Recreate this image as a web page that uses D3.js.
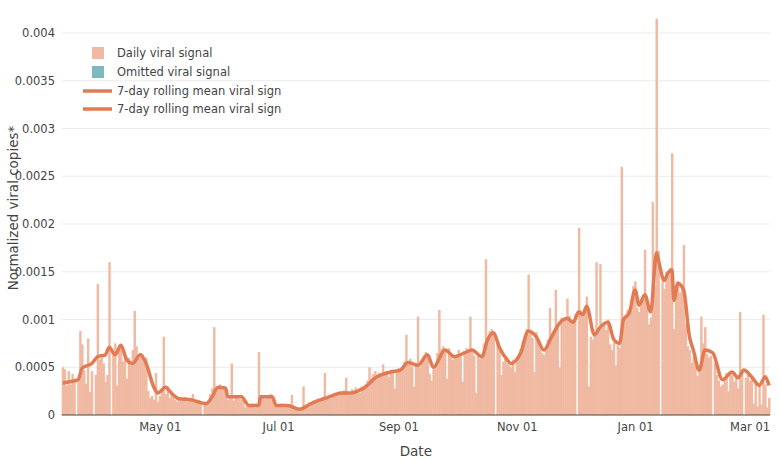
<!DOCTYPE html>
<html>
<head>
<meta charset="utf-8">
<script src="https://cdn.jsdelivr.net/npm/d3@7"></script>
<style>
  body { margin: 0; background: #fff; }
  svg { display: block; }
  text { font-family: "DejaVu Sans", Verdana, sans-serif; }
</style>
</head>
<body>
<svg id="chart" width="780" height="460"></svg>
<script>
// ---------- DATA ----------
const startDate = "2022-03-12"; // first daily sample
// Daily viral signal, in units of 1e-4 normalized copies (0 = no sample)
const dailyMar22 = [5.0,4.8,3.1,4.6,3.2,4.3,3.4,0,3.5,8.8,7.4,4.7,3.3,8.0,2.4,4.6,0,4.2,13.7,5.8];
const dailyApr22 = [6.0,5.4,3.5,4.2,16.0,0,6.3,7.5,3.1,6.8,7.2,5.6,6.4,3.8,6.0,5.2,6.8,10.9,7.2,5.9,6.5,6.4,5.5,6.0,2.5,1.8,2.0,1.6,4.4,1.4];
const dailyMay22 = [2.0,2.6,8.2,2.2,3.0,1.8,2.5,2.0,1.6,1.4,1.8,1.5,1.7,1.9,1.4,1.6,1.8,2.2,1.5,1.3,1.6,1.2,0,1.3,1.1,1.4,2.2,2.8,9.2,2.6,3.0];
const dailyJun22 = [3.2,2.7,3.0,2.4,1.6,2.0,5.4,1.5,1.8,2.1,1.7,1.6,1.9,0.8,1.0,1.1,0.9,1.2,0.8,1.0,6.6,1.8,2.0,1.7,2.1,1.9,2.2,1.6,1.0,1.1];
const dailyJul22 = [0.9,1.0,1.2,0.8,1.1,1.0,0.9,2.1,0.8,0.6,0.5,0.4,0.7,3.0,0.9,1.1,1.3,1.2,1.5,1.4,1.7,1.3,1.6,1.9,4.4,1.8,2.0,1.7,2.2,2.0,2.3];
const dailyAug22 = [2.1,2.5,2.2,2.6,3.9,2.4,2.1,2.7,2.4,2.9,2.6,2.3,3.0,2.7,3.2,3.6,5.0,3.9,4.3,4.6,3.8,4.4,4.1,5.3,4.3,4.6,4.0,4.7,4.4,2.8,4.6];
const dailySep22 = [4.9,4.5,5.0,5.6,8.4,5.3,5.9,5.1,3.0,5.4,10.3,5.0,5.7,6.2,6.6,6.0,4.3,3.6,4.8,5.1,6.5,11.0,6.9,7.2,6.6,3.8,7.0,6.3,5.8,6.0];
const dailyOct22 = [6.4,6.8,6.1,3.5,6.7,7.0,6.5,10.3,6.9,6.2,2.3,6.4,5.9,6.0,7.5,16.3,8.2,8.8,9.0,8.5,0,7.8,6.9,4.2,5.6,6.0,5.4,5.2,5.0,5.8,4.5];
const dailyNov22 = [6.1,6.4,6.9,7.8,8.3,9.0,14.7,8.6,8.1,4.5,8.7,7.9,7.0,6.5,6.3,7.2,7.9,11.2,8.5,8.8,13.1,9.5,5.0,10.2,9.8,10.0,12.2,10.4,9.6,9.9];
const dailyDec22 = [10.5,0,19.6,10.9,10.3,11.0,12.4,3.0,8.2,7.9,8.4,16.0,8.8,15.8,9.1,9.5,8.9,10.0,7.4,6.8,7.6,5.2,7.3,7.0,26.0,9.6,10.2,11.0,10.5,12.0,13.5];
const dailyJan23 = [14.0,11.2,10.8,12.0,12.4,17.3,11.8,9.5,10.2,22.3,13.5,41.5,17.2,0,14.0,13.2,15.0,14.6,15.4,27.4,9.0,13.5,14.0,12.8,13.6,17.8,9.5,7.2,6.8,5.5,6.0];
const dailyFeb23 = [5.2,4.1,4.8,10.3,7.5,9.2,6.4,6.0,6.2,0,5.5,4.2,3.6,3.0,3.2,3.8,4.4,2.5,4.6,4.2,3.5,4.0,2.8,10.8,4.5,0,3.9,4.4];
const dailyMar23 = [3.6,4.1,1.2,3.4,0.9,3.0,1.1,10.5,3.2,0.8,1.8];

// 7-day rolling mean viral signal (1e-4 units)
const rollDates = ["2022-03-12","2022-03-16","2022-03-20","2022-03-22","2022-03-27","2022-03-30","2022-04-03","2022-04-05","2022-04-08","2022-04-11","2022-04-14","2022-04-17","2022-04-21","2022-04-24","2022-04-28","2022-04-30","2022-05-04","2022-05-07","2022-05-11","2022-05-17","2022-05-25","2022-05-28","2022-05-31","2022-06-04","2022-06-05","2022-06-12","2022-06-16","2022-06-21","2022-06-22","2022-06-28","2022-06-30","2022-07-06","2022-07-12","2022-07-18","2022-07-26","2022-08-03","2022-08-07","2022-08-12","2022-08-14","2022-08-21","2022-08-28","2022-09-02","2022-09-06","2022-09-11","2022-09-16","2022-09-19","2022-09-25","2022-09-30","2022-10-05","2022-10-09","2022-10-14","2022-10-17","2022-10-20","2022-10-23","2022-10-27","2022-10-29","2022-11-03","2022-11-07","2022-11-11","2022-11-15","2022-11-19","2022-11-23","2022-11-27","2022-11-30","2022-12-03","2022-12-05","2022-12-07","2022-12-11","2022-12-14","2022-12-18","2022-12-21","2022-12-24","2022-12-26","2022-12-29","2023-01-01","2023-01-03","2023-01-06","2023-01-09","2023-01-12","2023-01-13","2023-01-16","2023-01-18","2023-01-20","2023-01-21","2023-01-23","2023-01-26","2023-01-29","2023-01-31","2023-02-03","2023-02-06","2023-02-10","2023-02-15","2023-02-20","2023-02-23","2023-02-26","2023-03-02","2023-03-06","2023-03-09","2023-03-11"];
const rollValues = [3.35,3.5,3.7,4.9,5.4,6.1,6.3,7.1,6.3,7.3,5.8,5.4,6.3,5.4,2.9,2.3,2.9,2.3,1.7,1.6,1.2,1.9,2.9,2.8,1.9,1.9,1.0,1.0,1.9,1.9,1.0,1.0,0.6,1.2,1.8,2.3,2.3,2.6,2.8,4.0,4.5,4.7,5.5,5.2,6.3,5.0,6.8,6.1,6.5,6.8,6.1,7.9,8.6,7.1,5.8,5.4,6.5,8.8,8.2,6.8,8.2,9.6,10.1,9.7,10.8,10.5,11.4,8.4,9.2,9.7,7.9,7.5,10.0,10.7,13.1,11.5,12.6,10.8,17.0,16.2,14.1,14.9,15.2,12.0,13.8,13.1,8.2,6.8,4.7,6.8,6.5,3.7,4.5,3.9,4.7,4.0,3.1,4.0,3.1];

const yTicks = [0, 0.0005, 0.001, 0.0015, 0.002, 0.0025, 0.003, 0.0035, 0.004];
const xTickDates = ["2022-05-01","2022-07-01","2022-09-01","2022-11-01","2023-01-01","2023-03-01"];
const legendLabels = ["Daily viral signal","Omitted viral signal","7-day rolling mean viral sign","7-day rolling mean viral sign"];
const UNIT = 1e-4;

// ---------- BUILD ----------
const parse = d3.timeParse("%Y-%m-%d");
const dailyValues = [].concat(dailyMar22, dailyApr22, dailyMay22, dailyJun22, dailyJul22, dailyAug22,
  dailySep22, dailyOct22, dailyNov22, dailyDec22, dailyJan23, dailyFeb23, dailyMar23);
const t0 = parse(startDate);
const daily = dailyValues.map((v, i) => ({ date: d3.timeDay.offset(t0, i), value: v * UNIT }));
const roll = rollDates.map((d, i) => ({ date: parse(d), value: rollValues[i] * UNIT }));

const colBar = "#f0b9a2", colOmit = "#7ab9bd", colLine = "#e07b53";

const svg = d3.select("#chart");
const x = d3.scaleTime()
  .domain([d3.timeHour.offset(t0, -12), d3.timeHour.offset(d3.timeDay.offset(t0, dailyValues.length), -12)])
  .range([61.7, 770]);
const y = d3.scaleLinear().domain([0, 0.0043]).range([415, 4.35]);

// gridlines
svg.append("g").selectAll("line").data(yTicks.slice(1)).join("line")
  .attr("x1", x.range()[0]).attr("x2", x.range()[1])
  .attr("y1", d => y(d)).attr("y2", d => y(d))
  .attr("stroke", "#ebebeb").attr("stroke-width", 1);

// bars
const bw = x(d3.timeDay.offset(t0, 1)) - x(t0);
svg.append("g").selectAll("rect").data(daily.filter(d => d.value > 0)).join("rect")
  .attr("x", d => x(d.date) - bw / 2)
  .attr("width", bw + 0.5)
  .attr("y", d => y(d.value))
  .attr("height", d => y(0) - y(d.value))
  .attr("fill", colBar);

// rolling mean line
svg.append("path").datum(roll)
  .attr("fill", "none").attr("stroke", colLine).attr("stroke-width", 3.5)
  .attr("stroke-linejoin", "round")
  .attr("d", d3.line().x(d => x(d.date)).y(d => y(d.value)).curve(d3.curveMonotoneX));

// zero line
svg.append("line").attr("x1", x.range()[0]).attr("x2", x.range()[1])
  .attr("y1", y(0)).attr("y2", y(0)).attr("stroke", "#444").attr("stroke-width", 1);

// y axis
const yAxis = d3.axisLeft(y).tickValues(yTicks).tickSize(0).tickPadding(4)
  .tickFormat(d => d === 0 ? "0" : d3.format("")(+d.toFixed(4)));
const gy = svg.append("g").attr("transform", "translate(59,0)").call(yAxis);
gy.select(".domain").remove();
gy.selectAll("text").attr("fill", "#444").style("font-size", "11.5px");

// x axis
const xAxis = d3.axisBottom(x).tickValues(xTickDates.map(parse)).tickSize(0).tickPadding(8)
  .tickFormat(d3.timeFormat("%b %d"));
const gx = svg.append("g").attr("transform", `translate(0,${y(0)})`).call(xAxis);
gx.select(".domain").remove();
gx.selectAll("text").attr("fill", "#444").style("font-size", "11.5px");

// axis titles
svg.append("text").attr("x", (x.range()[0] + x.range()[1]) / 2).attr("y", 456)
  .attr("text-anchor", "middle").attr("fill", "#444").style("font-size", "13.5px").text("Date");
svg.append("text").attr("transform", "translate(18,208) rotate(-90)")
  .attr("text-anchor", "middle").attr("fill", "#444").style("font-size", "13.5px")
  .text("Normalized viral copies*");

// legend
const lg = svg.append("g");
const rows = [53, 72, 91, 109];
legendLabels.forEach((lab, i) => {
  const ry = rows[i];
  if (i < 2) {
    lg.append("rect").attr("x", 92).attr("y", ry - 6).attr("width", 12).attr("height", 12)
      .attr("fill", i === 0 ? colBar : colOmit);
  } else {
    lg.append("line").attr("x1", 83).attr("x2", 112).attr("y1", ry).attr("y2", ry)
      .attr("stroke", colLine).attr("stroke-width", 3.5);
  }
  lg.append("text").attr("x", 117).attr("y", ry).attr("dy", "0.36em")
    .attr("fill", "#444").style("font-size", "11.5px").text(lab);
});
</script>
</body>
</html>
